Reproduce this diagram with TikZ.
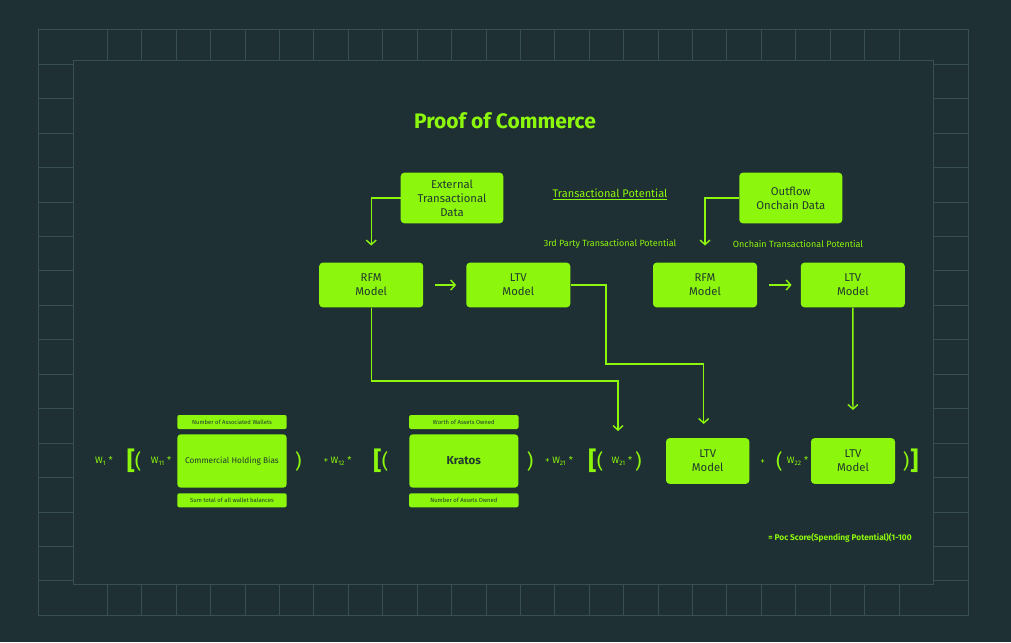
\documentclass[tikz,border=0pt]{standalone}
\usepackage{fontspec}
\setmainfont{Fira Sans}
\usetikzlibrary{arrows.meta}

\definecolor{bgdark}{HTML}{1F3034}
\definecolor{gridline}{HTML}{374E52}
\definecolor{lime}{HTML}{8CF70C}
\definecolor{ink}{HTML}{22392F}

\begin{document}
\begin{tikzpicture}[x=1pt,y=-1pt,
    box/.style={fill=lime, rounded corners=3.5pt, text=ink, align=center, inner sep=0pt,
        minimum width=104pt, minimum height=44.6pt, font=\fontsize{11.3}{14}\selectfont},
    tag/.style={fill=lime, rounded corners=2pt, text=ink, inner sep=0pt,
        minimum width=109.4pt, minimum height=14pt, font=\fontsize{5.9}{6}\selectfont},
    lbl/.style={text=lime, inner sep=0pt},
    wt/.style={lbl, font=\fontsize{9.3}{9}\selectfont},
    brk/.style={lbl, font=\fontsize{25}{25}\selectfont\bfseries},
    paren/.style={lbl, font=\fontsize{20}{20}\selectfont},
    flow/.style={draw=lime, line width=1.4pt, -{Straight Barb[length=4.5pt,width=10pt]}}]

    % Background and frame
    \fill[bgdark] (0,0) rectangle (1011,642);
    \useasboundingbox (0,0) rectangle (1011,642);
    \draw[gridline] (38.3,29.3) rectangle (968.3,615);
    \draw[gridline] (72.7,60.3) rectangle (933.3,584.3);
    \foreach \i in {1,...,24} {
        \draw[gridline] (72.7+34.42*\i,29.3) -- (72.7+34.42*\i,60.3);
        \draw[gridline] (72.7+34.42*\i,584.3) -- (72.7+34.42*\i,615);
    }
    \foreach \j in {0,...,15} {
        \draw[gridline] (38.3,64+34.44*\j) -- (72.7,64+34.44*\j);
        \draw[gridline] (933.3,64+34.44*\j) -- (968.3,64+34.44*\j);
    }

    % Title
    \node[lbl, font=\fontsize{21}{22}\selectfont\bfseries] (title) at (505,121) {Proof of Commerce};

    % Transactional potential, top row
    \node[box, minimum width=102.6pt, minimum height=50.6pt] (ext) at (452,198) {External\\Transactional\\Data};
    \node[lbl, font=\fontsize{11}{12}\selectfont] (tpot) at (610,194) {\underline{Transactional Potential}};
    \node[box, minimum width=103pt, minimum height=50.6pt] (outflow) at (790.8,198) {Outflow\\Onchain Data};
    \node[lbl, font=\fontsize{9}{10}\selectfont] (party) at (610,244) {3rd Party Transactional Potential};
    \node[lbl, font=\fontsize{9}{10}\selectfont] (onchain) at (798,244) {Onchain Transactional Potential};

    % Models
    \node[box] (rfmA) at (371.2,285) {RFM\\Model};
    \node[box] (ltvA) at (518.3,285) {LTV\\Model};
    \node[box] (rfmB) at (705,285) {RFM\\Model};
    \node[box] (ltvB) at (852.8,285) {LTV\\Model};

    % Formula row
    \node[wt] (wone) at (104,461) {W\textsubscript{1} *};
    \node[brk] (bra) at (131,461) {[};
    \node[paren] (pa) at (138,461) {(};
    \node[wt] (woneone) at (161,461) {W\textsubscript{11} *};
    \node[tag] (wallets) at (232,422) {Number of Associated Wallets};
    \node[box, minimum width=109.4pt, minimum height=53.4pt, font=\fontsize{8.3}{10}\selectfont] (chb) at (232,461) {Commercial Holding Bias};
    \node[tag] (balances) at (232,500.3) {Sum total of all wallet balances};
    \node[paren] (pb) at (298.3,461) {)};
    \node[wt] (wonetwo) at (337.5,461) {+ W\textsubscript{12} *};
    \node[brk] (brb) at (377.3,461) {[};
    \node[paren] (pc) at (385,461) {(};
    \node[tag] (worth) at (463.8,422) {Worth of Assets Owned};
    \node[box, minimum width=109pt, minimum height=53.4pt, font=\fontsize{11.5}{12}\selectfont\bfseries] (kratos) at (463.8,461) {Kratos};
    \node[tag] (assets) at (463.8,500.3) {Number of Assets Owned};
    \node[paren] (pd) at (530,461) {)};
    \node[wt] (wtwoone) at (559,461) {+ W\textsubscript{21} *};
    \node[brk] (brc) at (592.3,461) {[};
    \node[paren] (pe) at (600,461) {(};
    \node[wt] (wtwooneb) at (622,461) {W\textsubscript{21} *};
    \node[paren] (pf) at (638.3,461) {)};
    \node[box, minimum width=83.3pt, minimum height=45.7pt] (ltvC) at (707.7,461) {LTV\\Model};
    \node[wt] (plus) at (762.7,462) {+};
    \node[paren] (pg) at (779.3,461) {(};
    \node[wt] (wtwotwo) at (797.5,461) {W\textsubscript{22} *};
    \node[box, minimum width=84pt, minimum height=45.7pt] (ltvD) at (853,461) {LTV\\Model};
    \node[paren] (ph) at (906,461) {)};
    \node[brk] (brd) at (914.3,461) {]};
    \node[lbl, font=\fontsize{8.3}{9}\selectfont\bfseries] (poc) at (840,538.3) {= Poc Score(Spending Potential)(1-100};

    % Connectors
    \coordinate (bendA) at (606,364);
    \coordinate (bendB) at (618,381);
    \coordinate (rfmEnd) at (618,431);
    \draw[flow, shorten >=17pt] (ext.west) -| (rfmA.north);
    \draw[flow, shorten <=12pt, shorten >=10pt] (rfmA) -- (ltvA);
    \draw[flow, shorten >=14pt] (ltvA.east) -| (bendA) -| ([xshift=-4pt]ltvC.north);
    \draw[flow] (rfmA.south) |- (bendB) -- (rfmEnd);
    \draw[flow, shorten >=17pt] (outflow.west) -| (rfmB.north);
    \draw[flow, shorten <=12pt, shorten >=9pt] (rfmB) -- (ltvB);
    \draw[flow, shorten >=28pt] (ltvB) -- (ltvD);
\end{tikzpicture}
\end{document}
